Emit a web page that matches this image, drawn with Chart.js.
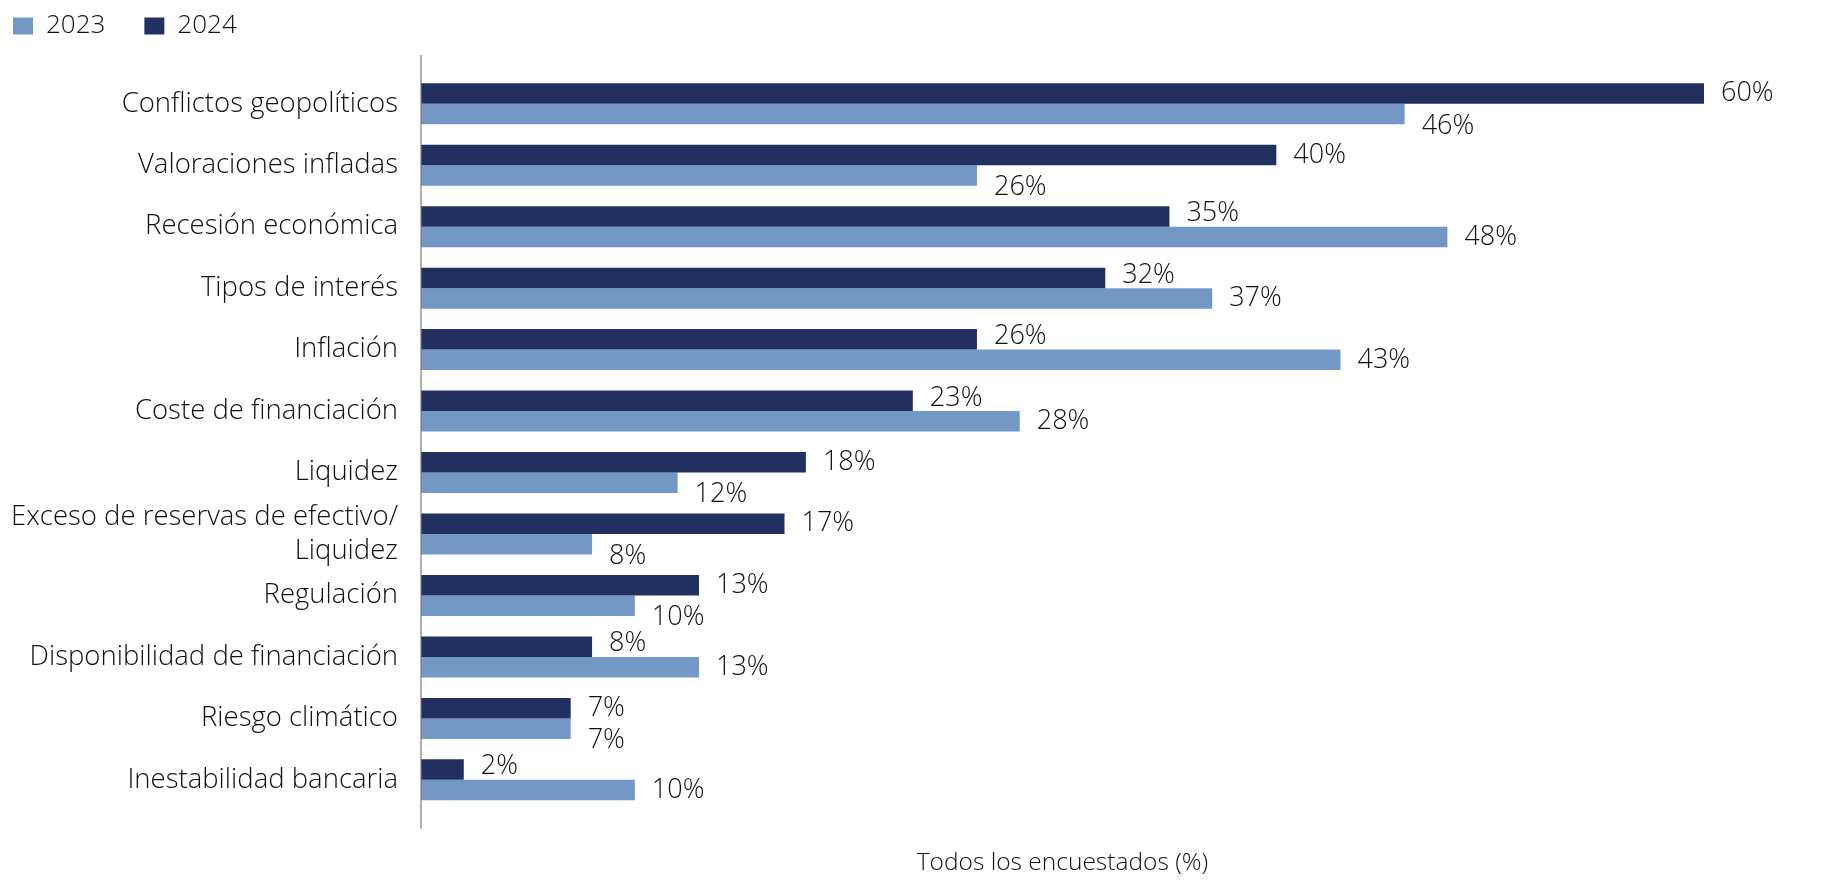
<!DOCTYPE html>
<html>
<head>
<meta charset="utf-8">
<script src="https://cdn.jsdelivr.net/npm/chart.js@4.4.1/dist/chart.umd.min.js"></script>
<style>
  body { margin: 0; background: #fff; }
  #wrap { width: 1830px; height: 880px; }
</style>
</head>
<body>
<div id="wrap"><canvas id="riesgos" width="1830" height="880"></canvas></div>
<script>
var categorias = [
    'Conflictos geopolíticos',
    'Valoraciones infladas',
    'Recesión económica',
    'Tipos de interés',
    'Inflación',
    'Coste de financiación',
    'Liquidez',
    ['Exceso de reservas de efectivo/', 'Liquidez'],
    'Regulación',
    'Disponibilidad de financiación',
    'Riesgo climático',
    'Inestabilidad bancaria'
];
var valores2024 = [60, 40, 35, 32, 26, 23, 18, 17, 13, 8, 7, 2];
var valores2023 = [46, 26, 48, 37, 43, 28, 12, 8, 10, 13, 7, 10];

var FONT = '"Open Sans", "Noto Sans", sans-serif';
var TEXTO = '#111111';

// etiquetas de valor al final de cada barra
var etiquetas = {
    id: 'etiquetas',
    afterDatasetsDraw: function (chart) {
        var ctx = chart.ctx;
        ctx.save();
        ctx.font = '350 27px ' + FONT;
        ctx.fillStyle = TEXTO;
        ctx.textAlign = 'left';
        ctx.textBaseline = 'middle';
        chart.data.datasets.forEach(function (ds, d) {
            var meta = chart.getDatasetMeta(d);
            meta.data.forEach(function (bar, i) {
                var menor = valores2023[i] <= valores2024[i];
                var dy = 0;
                if (d === 1 && menor) dy = 12;
                if (d === 0 && !menor) dy = -3;
                ctx.fillText(ds.data[i] + '%', bar.x + 17, bar.y + dy);
            });
        });
        ctx.restore();
    }
};

// linea vertical del eje de categorias
var lineaEje = {
    id: 'lineaEje',
    afterDraw: function (chart) {
        var a = chart.chartArea;
        var ctx = chart.ctx;
        ctx.save();
        ctx.strokeStyle = '#7a7a7a';
        ctx.lineWidth = 1.2;
        ctx.beginPath();
        ctx.moveTo(a.left, a.top - 18);
        ctx.lineTo(a.left, a.bottom + 18);
        ctx.stroke();
        ctx.restore();
    }
};

var ctx = document.getElementById('riesgos');

var grafico = new Chart(ctx, {
    type: 'bar',
    data: {
        labels: categorias,
        datasets: [
            {
                label: '2024',
                backgroundColor: '#22305f',
                borderWidth: 0,
                data: valores2024
            },
            {
                label: '2023',
                backgroundColor: '#7398c6',
                borderWidth: 0,
                data: valores2023
            }
        ]
    },
    options: {
        indexAxis: 'y',
        responsive: false,
        animation: false,
        layout: { padding: { left: 0, right: 126, top: 0, bottom: 0 } },
        datasets: {
            bar: { categoryPercentage: 0.667, barPercentage: 1.0 }
        },
        plugins: {
            tooltip: { enabled: false },
            legend: {
                position: 'top',
                align: 'start',
                labels: {
                    font: { family: FONT, size: 26, weight: 350 },
                    color: TEXTO,
                    boxWidth: 20,
                    boxHeight: 17,
                    padding: 13,
                    sort: function (a, b) { return b.datasetIndex - a.datasetIndex; },
                    generateLabels: function (chart) {
                        var items = Chart.defaults.plugins.legend.labels.generateLabels(chart);
                        items.forEach(function (it) { it.text = it.text + '\u2002\u2002'; it.lineWidth = 0; });
                        return items;
                    }
                }
            }
        },
        scales: {
            x: {
                min: 0,
                max: 60,
                position: 'bottom',
                grid: { display: false, drawTicks: false },
                border: { display: false },
                ticks: { display: false },
                title: {
                    display: true,
                    text: 'Todos los encuestados (%)',
                    color: TEXTO,
                    font: { family: FONT, size: 24.5, weight: 350 },
                    padding: { top: 38, bottom: 2 }
                }
            },
            arriba: {
                type: 'linear',
                position: 'top',
                grid: { display: false, drawTicks: false },
                border: { display: false },
                ticks: { display: false },
                afterFit: function (s) { s.height = 24; }
            },
            y: {
                grid: { display: false, drawTicks: false },
                border: { display: false },
                ticks: {
                    autoSkip: false,
                    color: TEXTO,
                    font: { family: FONT, size: 27.5, weight: 350, lineHeight: 1.22 },
                    padding: 23
                },
                afterFit: function (s) { s.width = 421; }
            }
        }
    },
    plugins: [etiquetas, lineaEje]
});
</script>
</body>
</html>
